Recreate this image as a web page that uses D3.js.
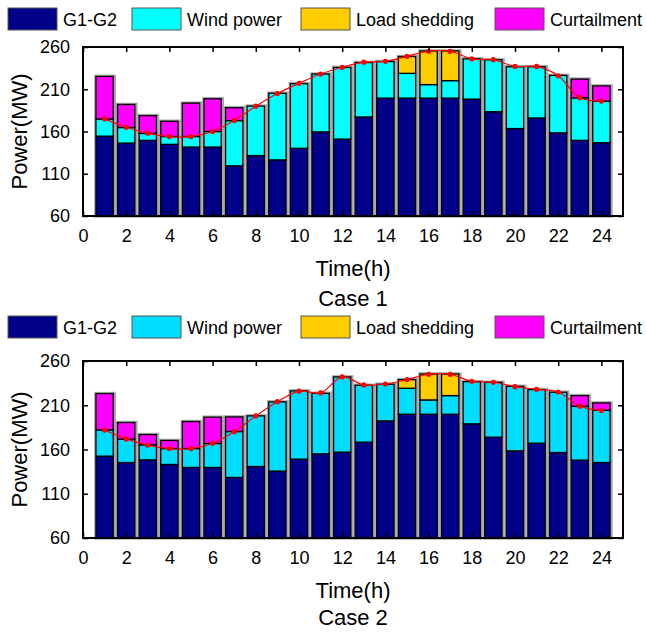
<!DOCTYPE html>
<html lang="en">
<head>
<meta charset="utf-8">
<title>Power balance, case 1 and case 2</title>
<script src="https://d3js.org/d3.v7.min.js"></script>
<style>
  body { margin: 0; background: #fff; }
  svg { display: block; font-family: Arial, "Liberation Sans", sans-serif; }
</style>
</head>
<body>
<script>
// hours on the x axis
var hours = d3.range(1, 25);
var xTicks = d3.range(0, 25, 2);
var yTicks = [60, 110, 160, 210, 260];
var seriesNames = ["G1-G2", "Wind power", "Load shedding", "Curtailment"];

// case 1 (MW)
var gen1   = [154.5,146.3,149.5,144.8,141.6,141.6,119.4,131.5,126.4,140.1,159.6,151.0,177.2,199.5,199.5,199.5,199.5,198.3,183.4,163.5,176.0,158.4,149.5,146.7];
var wind1  = [20.3,18.4,8.2,9.3,12.5,18.4,53.5,58.6,78.9,76.5,68.4,84.8,64.4,43.3,29.3,16.0,20.7,47.7,61.4,73.1,60.6,68.0,50.3,49.2];
var shed1  = [0,0,0,0,0,0,0,0,0,0,0,0,0,0,19.9,39.8,35.1,0,0,0,0,0,0,0];
var curt1  = [50.4,27.3,21.1,18.0,39.5,38.7,15.2,0,0,0,0,0,0,0,0,0,0,0,0,0,0,0,22.2,18.0];
var load1  = [175,165,158,154,154,160,173,190,205,217,228,236,242,243,249,255,255,246,245,237,237,226,200,196];

// case 2 (MW)
var gen2   = [152.5,145.3,148.3,143.1,139.7,139.7,128.4,140.8,135.6,149.1,155.1,157.0,168.3,192.3,199.8,199.8,199.8,189.0,173.9,158.5,167.1,156.6,148.0,145.3];
var wind2  = [29.7,26.4,17.0,18.0,21.4,27.1,51.9,57.2,78.2,77.1,68.4,85.0,64.3,41.4,29.4,16.2,21.1,47.7,62.0,72.9,60.6,68.1,60.9,59.1];
var shed2  = [0,0,0,0,0,0,0,0,0,0,0,0,0,0,9.7,29.3,24.4,0,0,0,0,0,0,0];
var curt2  = [41.0,18.8,11.6,9.1,30.5,29.7,16.5,0,0,0,0,0,0,0,0,0,0,0,0,0,0,0,12.0,8.2];
var load2  = [182,172,165,161,161,167,180,198,214,226,224,242,233,234,239,245,245,237,236,231,228,225,209,204];

var width = 646, height = 635;
var svg = d3.select("body").append("svg")
    .attr("width", width)
    .attr("height", height);

var x = d3.scaleLinear().domain([0, 25]).range([83, 623]);
var barW = 0.8 * (x(1) - x(0));

function drawCase(opt) {
  var y = d3.scaleLinear().domain([60, 260]).range([opt.bottom, opt.top]);
  var colors = ["#000088", opt.windColor, "#ffcc00", "#ff00ff"];
  var g = svg.append("g");

  // legend
  var legend = g.append("g")
      .selectAll("g")
      .data(seriesNames)
      .enter().append("g")
      .attr("transform", function(d, i) { return "translate(" + [8, 132, 301, 495][i] + "," + opt.legendY + ")"; });
  legend.append("rect")
      .attr("width", 49)
      .attr("height", 22)
      .attr("fill", function(d, i) { return colors[i]; })
      .attr("stroke", "#555")
      .attr("stroke-width", 1);
  legend.append("text")
      .attr("x", 55)
      .attr("y", 18)
      .attr("font-size", 18)
      .text(function(d) { return d; });

  // stacked bars
  var rows = hours.map(function(h, i) {
    return {h: h, vals: [opt.gen[i], opt.wind[i], opt.shed[i], opt.curt[i]]};
  });
  var bars = g.append("g").selectAll("g")
      .data(rows)
      .enter().append("g");

  // grey halo behind each full bar
  bars.append("rect")
      .attr("x", function(d) { return x(d.h) - barW / 2; })
      .attr("y", function(d) { return y(d3.sum(d.vals)); })
      .attr("width", barW + 1)
      .attr("height", function(d) { return y(60) - y(d3.sum(d.vals)); })
      .attr("fill", "none")
      .attr("stroke", "#a8a8a8")
      .attr("stroke-width", 3.5);

  bars.selectAll("rect.seg")
      .data(function(d) {
        var base = 60, segs = [];
        d.vals.forEach(function(v, k) {
          if (v > 0) segs.push({h: d.h, y0: base, y1: base + (k == 0 ? v - 60 : v), k: k});
          base += (k == 0 ? v - 60 : v);
        });
        return segs;
      })
      .enter().append("rect")
      .attr("class", "seg")
      .attr("x", function(d) { return x(d.h) - barW / 2; })
      .attr("y", function(d) { return y(d.y1); })
      .attr("width", barW)
      .attr("height", function(d) { return y(d.y0) - y(d.y1); })
      .attr("fill", function(d) { return colors[d.k]; })
      .attr("stroke", "#000")
      .attr("stroke-width", 1.3);

  // load line
  var line = d3.line()
      .x(function(d, i) { return x(hours[i]); })
      .y(function(d) { return y(d); })
      .curve(d3.curveCatmullRom);
  g.append("path")
      .datum(opt.load)
      .attr("d", line)
      .attr("fill", "none")
      .attr("stroke", "#ff0000")
      .attr("stroke-width", 1.2);
  g.selectAll("circle.pt")
      .data(opt.load)
      .enter().append("circle")
      .attr("class", "pt")
      .attr("cx", function(d, i) { return x(hours[i]); })
      .attr("cy", function(d) { return y(d); })
      .attr("r", 2.6)
      .attr("fill", "#ff0000");

  // axes: ticks inside on all four sides
  var ax = g.append("g");
  ax.append("g")
      .attr("transform", "translate(0," + opt.bottom + ")")
      .call(d3.axisBottom(x).tickValues(xTicks).tickSizeInner(-5).tickSizeOuter(0).tickPadding(13));
  ax.append("g")
      .attr("transform", "translate(0," + opt.top + ")")
      .call(d3.axisTop(x).tickValues(xTicks).tickSizeInner(-5).tickSizeOuter(0).tickFormat(""));
  ax.append("g")
      .attr("transform", "translate(" + x(0) + ",0)")
      .call(d3.axisLeft(y).tickValues(yTicks).tickSizeInner(-5).tickSizeOuter(0).tickPadding(13));
  ax.append("g")
      .attr("transform", "translate(" + x(25) + ",0)")
      .call(d3.axisRight(y).tickValues(yTicks).tickSizeInner(-5).tickSizeOuter(0).tickFormat(""));
  ax.selectAll(".domain").remove();
  ax.selectAll("g")
      .attr("font-size", 18)
      .attr("font-family", "Arial, 'Liberation Sans', sans-serif");
  ax.selectAll("text").attr("fill", "#000");
  ax.selectAll(".tick line").attr("stroke", "#000").attr("stroke-width", 1.5);

  g.append("rect")
      .attr("x", x(0))
      .attr("y", opt.top)
      .attr("width", x(25) - x(0))
      .attr("height", opt.bottom - opt.top)
      .attr("fill", "none")
      .attr("stroke", "#000")
      .attr("stroke-width", 2);

  // labels
  g.append("text")
      .attr("transform", "translate(27," + (opt.top + opt.bottom) / 2 + ") rotate(-90)")
      .attr("text-anchor", "middle")
      .attr("font-size", 22)
      .text("Power(MW)");
  g.append("text")
      .attr("x", (x(0) + x(25)) / 2)
      .attr("y", opt.bottom + 60)
      .attr("text-anchor", "middle")
      .attr("font-size", 22)
      .text("Time(h)");
  g.append("text")
      .attr("x", (x(0) + x(25)) / 2)
      .attr("y", opt.bottom + opt.captionDy)
      .attr("text-anchor", "middle")
      .attr("font-size", 22)
      .text(opt.caption);
}

drawCase({top: 47, bottom: 216, legendY: 8, windColor: "#00ffff",
          gen: gen1, wind: wind1, shed: shed1, curt: curt1, load: load1,
          caption: "Case 1", captionDy: 90});
drawCase({top: 361, bottom: 538, legendY: 316, windColor: "#00ddff",
          gen: gen2, wind: wind2, shed: shed2, curt: curt2, load: load2,
          caption: "Case 2", captionDy: 87});
</script>
</body>
</html>
